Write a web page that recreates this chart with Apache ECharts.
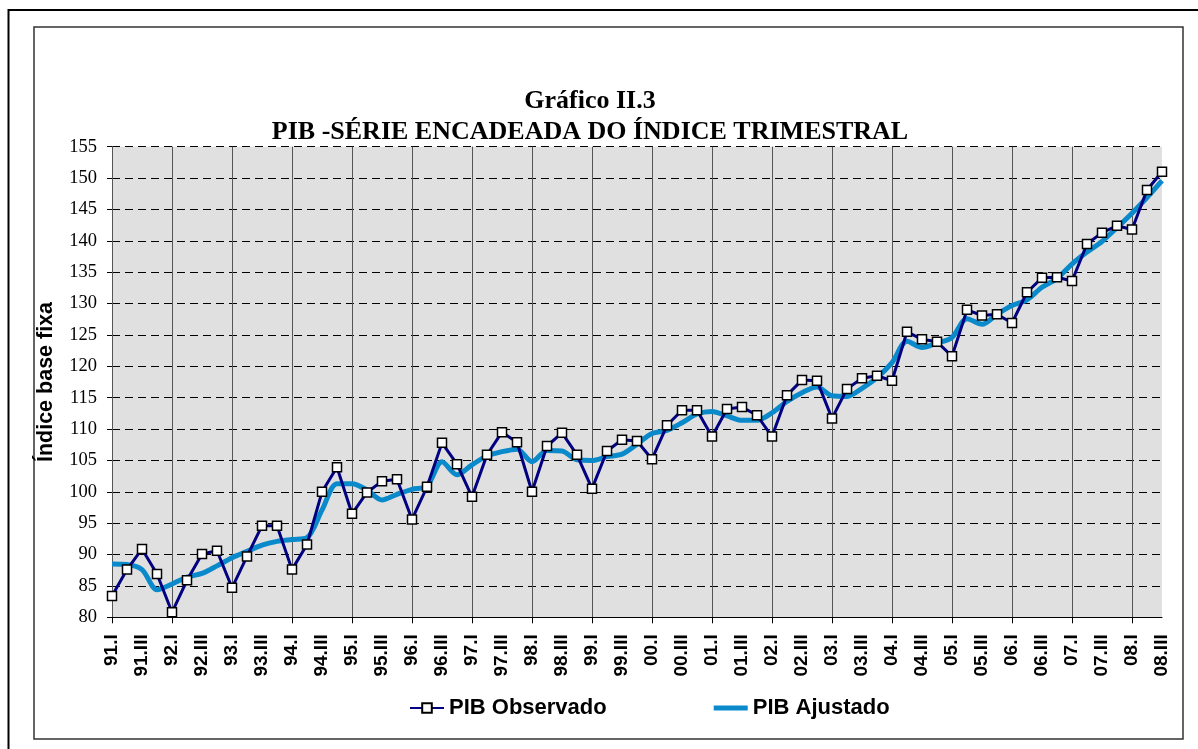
<!DOCTYPE html>
<html>
<head>
<meta charset="utf-8">
<script src="https://cdn.jsdelivr.net/npm/echarts@6/dist/echarts.min.js"></script>
<style>
  html, body { margin: 0; padding: 0; background: #fff; }
  #chart { width: 1198px; height: 749px; }
</style>
</head>
<body>
<div id="chart"></div>
<script>
// quarters 91.I .. 08.III
const quarters = [
  '91.I', '91.II', '91.III', '91.IV', '92.I', '92.II', '92.III', '92.IV',
  '93.I', '93.II', '93.III', '93.IV', '94.I', '94.II', '94.III', '94.IV',
  '95.I', '95.II', '95.III', '95.IV', '96.I', '96.II', '96.III', '96.IV',
  '97.I', '97.II', '97.III', '97.IV', '98.I', '98.II', '98.III', '98.IV',
  '99.I', '99.II', '99.III', '99.IV', '00.I', '00.II', '00.III', '00.IV',
  '01.I', '01.II', '01.III', '01.IV', '02.I', '02.II', '02.III', '02.IV',
  '03.I', '03.II', '03.III', '03.IV', '04.I', '04.II', '04.III', '04.IV',
  '05.I', '05.II', '05.III', '05.IV', '06.I', '06.II', '06.III', '06.IV',
  '07.I', '07.II', '07.III', '07.IV', '08.I', '08.II', '08.III'
]

const pibObservado = [
  83.4, 87.6, 90.9, 86.9, 80.8, 85.9, 90.1, 90.6,
  84.7, 89.7, 94.6, 94.6, 87.6, 91.6, 100.0, 103.9,
  96.5, 99.9, 101.7, 102.0, 95.6, 100.8, 107.8, 104.4,
  99.2, 105.9, 109.5, 107.9, 100.0, 107.3, 109.4, 105.9,
  100.5, 106.5, 108.3, 108.1, 105.2, 110.6, 113.0, 113.0,
  108.8, 113.2, 113.5, 112.2, 108.8, 115.4, 117.8, 117.7,
  111.7, 116.4, 118.1, 118.5, 117.7, 125.5, 124.3, 123.9,
  121.6, 129.0, 128.1, 128.3, 126.9, 131.8, 134.1, 134.2,
  133.6, 139.5, 141.3, 142.4, 141.8, 148.1, 151.0
]

const pibAjustado = [
  88.5, 88.4, 87.6, 84.4, 85.3, 86.4, 87.0, 88.2,
  89.5, 90.5, 91.5, 92.1, 92.4, 92.7, 97.1, 101.3,
  101.3, 100.3, 98.7, 99.6, 100.4, 100.9, 104.8, 102.7,
  104.3, 105.7, 106.4, 106.8, 104.8, 106.6, 106.5, 105.1,
  105.0, 105.6, 106.0, 107.6, 109.3, 109.8, 111.0, 112.4,
  112.8, 112.1, 111.4, 111.4, 112.6, 114.4, 115.8, 116.7,
  115.3, 115.2, 116.5, 118.2, 120.6, 124.0, 123.0, 123.7,
  124.6, 127.6, 126.7, 128.3, 129.7, 130.6, 132.6, 134.0,
  136.3, 138.2, 139.9, 142.1, 144.4, 146.9, 149.6
]

const chart = echarts.init(document.getElementById('chart'))

chart.setOption({
  animation: false,
  backgroundColor: '#fff',
  title: {
    text: 'Gráfico II.3\nPIB -SÉRIE ENCADEADA DO ÍNDICE TRIMESTRAL',
    left: 585,
    top: 81,
    textAlign: 'center',
    textStyle: {
      fontFamily: 'Liberation Serif',
      fontWeight: 'bold',
      fontSize: 26,
      lineHeight: 31,
      color: '#000'
    }
  },
  graphic: [
    {
      type: 'rect',
      shape: { x: 34, y: 27, width: 1149, height: 712 },
      style: { fill: null, stroke: '#333', lineWidth: 1.5 }
    },
    {
      type: 'polyline',
      shape: { points: [[8.5, 749], [8.5, 10], [1198, 10]] },
      style: { fill: null, stroke: '#000', lineWidth: 2 }
    }
  ],
  legend: {
    left: 409,
    top: 697,
    padding: 0,
    itemWidth: 34,
    itemHeight: 12,
    itemGap: 107,
    textStyle: {
      fontFamily: 'Liberation Sans',
      fontWeight: 'bold',
      fontSize: 22,
      color: '#000'
    },
    data: [
      { name: 'PIB Observado' },
      {
        name: 'PIB Ajustado',
        // flat bar, same bounding box as the icon
        icon: 'path://M0,0H34V0.01H0Z M0,3.5H34V8.5H0Z M0,11.99H34V12H0Z',
        itemStyle: { color: '#0a8acb' }
      }
    ]
  },
  grid: {
    left: 112,
    right: 36,
    top: 146.7,
    bottom: 131.7,
    show: true,
    backgroundColor: '#e0e0e0',
    borderWidth: 0
  },
  xAxis: {
    type: 'category',
    data: quarters,
    boundaryGap: false,
    axisLine: { lineStyle: { color: '#000', width: 1 } },
    axisTick: { interval: 3, length: 6, lineStyle: { color: '#000' } },
    axisLabel: {
      interval: 1,
      rotate: 90,
      margin: 17,
      fontFamily: 'Liberation Sans',
      fontWeight: 'bold',
      fontSize: 19,
      color: '#000'
    },
    splitLine: {
      show: true,
      interval: 3,
      lineStyle: { color: '#555', width: 1 }
    }
  },
  yAxis: {
    type: 'value',
    min: 80,
    max: 155,
    interval: 5,
    name: 'Índice base fixa',
    nameLocation: 'middle',
    nameRotate: 90,
    nameGap: 55,
    nameTextStyle: {
      fontFamily: 'Liberation Sans',
      fontWeight: 'bold',
      fontSize: 21.5,
      color: '#000'
    },
    axisLine: { show: true, lineStyle: { color: '#555', width: 1 } },
    axisTick: { show: true, length: 5, lineStyle: { color: '#000' } },
    axisLabel: {
      margin: 15,
      fontFamily: 'Liberation Serif',
      fontSize: 18.5,
      color: '#000'
    },
    splitLine: {
      show: true,
      lineStyle: { color: '#000', width: 1, type: [8, 5] }
    }
  },
  series: [
    {
      name: 'PIB Ajustado',
      type: 'line',
      data: pibAjustado,
      smooth: 0.3,
      symbol: 'none',
      color: '#0a8acb',
      lineStyle: { width: 5, color: '#0a8acb' },
      z: 2
    },
    {
      name: 'PIB Observado',
      type: 'line',
      data: pibObservado,
      symbol: 'rect',
      symbolSize: 9,
      showAllSymbol: true,
      color: '#000080',
      lineStyle: { width: 3, color: '#000080' },
      itemStyle: { color: '#fff', borderColor: '#000', borderWidth: 1.5 },
      z: 3
    }
  ]
})
</script>
</body>
</html>
